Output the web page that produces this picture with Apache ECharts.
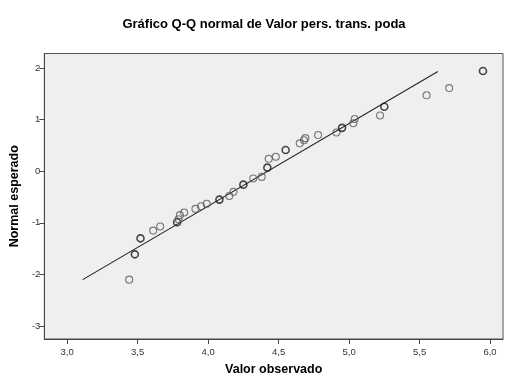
<!DOCTYPE html>
<html><head><meta charset="utf-8">
<script src="https://cdn.jsdelivr.net/npm/echarts@6/dist/echarts.min.js"></script>
<style>html,body{margin:0;padding:0;background:#fff}#c{width:505px;height:381px}</style>
</head><body><div id="c"></div>
<script>
const observed = [3.44,3.48,3.52,3.61,3.66,3.78,3.79,3.80,3.83,3.91,3.95,3.99,4.08,4.15,4.18,4.25,4.32,4.38,4.42,4.43,4.48,4.55,4.65,4.68,4.69,4.78,4.91,4.95,5.03,5.04,5.22,5.25,5.55,5.71,5.95];
const expected = [-2.10,-1.61,-1.30,-1.15,-1.07,-0.99,-0.93,-0.85,-0.80,-0.73,-0.68,-0.63,-0.55,-0.48,-0.40,-0.26,-0.14,-0.11,0.07,0.24,0.28,0.41,0.54,0.60,0.64,0.70,0.75,0.84,0.93,1.01,1.08,1.25,1.47,1.61,1.94];
const counts = [1,2,2,1,1,2,1,1,1,1,1,1,2,1,1,2,1,1,2,1,1,2,1,1,1,1,1,2,1,1,1,2,1,1,2];
const lineX = [3.11, 5.63];
const lineY = [-2.10, 1.93];
const xTicks = [3.0,3.5,4.0,4.5,5.0,5.5,6.0];
const yTicks = [-3,-2,-1,0,1,2];

const chart = echarts.init(document.getElementById('c'), null, {renderer:'canvas'});
const font = 'Arial, "Liberation Sans", sans-serif';
const pts = observed.map((x,i)=>({
  value:[x, expected[i]],
  itemStyle:{borderColor: counts[i]>1 ? '#1a1a1a' : '#5a5a5a', borderWidth: counts[i]>1 ? 1.6 : 1.1}
}));
chart.setOption({
  animation:false,
  backgroundColor:'#ffffff',
  title:{text:'Gráfico Q-Q normal de Valor pers. trans. poda', left:259, top:13, textAlign:'center',
    textStyle:{fontFamily:font, fontSize:13, fontWeight:'bold', color:'#000'}},
  grid:{left:43, right:2, top:53.5, bottom:33, show:true, backgroundColor:'#efefef', borderColor:'#555', borderWidth:1},
  xAxis:{type:'value', min:2.838, max:6.092,
    name:'Valor observado', nameLocation:'middle', nameGap:24,
    nameTextStyle:{fontFamily:font, fontSize:12.5, fontWeight:'bold', color:'#000'},
    axisLine:{show:true, onZero:false, lineStyle:{color:'#444'}},
    axisTick:{show:true, length:5, customValues:xTicks, lineStyle:{color:'#444'}},
    axisLabel:{customValues:xTicks, fontFamily:font, fontSize:9.5, color:'#333', margin:8,
      formatter:v=>v.toFixed(1).replace('.',',')},
    splitLine:{show:false}},
  yAxis:{type:'value', min:-3.25, max:2.28,
    name:'Normal esperado', nameLocation:'middle', nameGap:17, nameRotate:90,
    nameTextStyle:{fontFamily:font, fontSize:12.5, fontWeight:'bold', color:'#000'},
    axisLine:{show:true, onZero:false, lineStyle:{color:'#444'}},
    axisTick:{show:true, length:5, customValues:yTicks, lineStyle:{color:'#444'}},
    axisLabel:{customValues:yTicks, fontFamily:font, fontSize:9.5, color:'#333', margin:4,
      formatter:v=>String(v)},
    splitLine:{show:false}},
  series:[
    {type:'line', data:[[lineX[0],lineY[0]],[lineX[1],lineY[1]]], showSymbol:false, symbol:'none',
      lineStyle:{color:'#222', width:1.1}, z:2},
    {type:'scatter', data:pts, symbol:'circle', symbolSize:7,
      itemStyle:{color:'rgba(0,0,0,0)'}, z:3}
  ]
});
</script></body></html>
